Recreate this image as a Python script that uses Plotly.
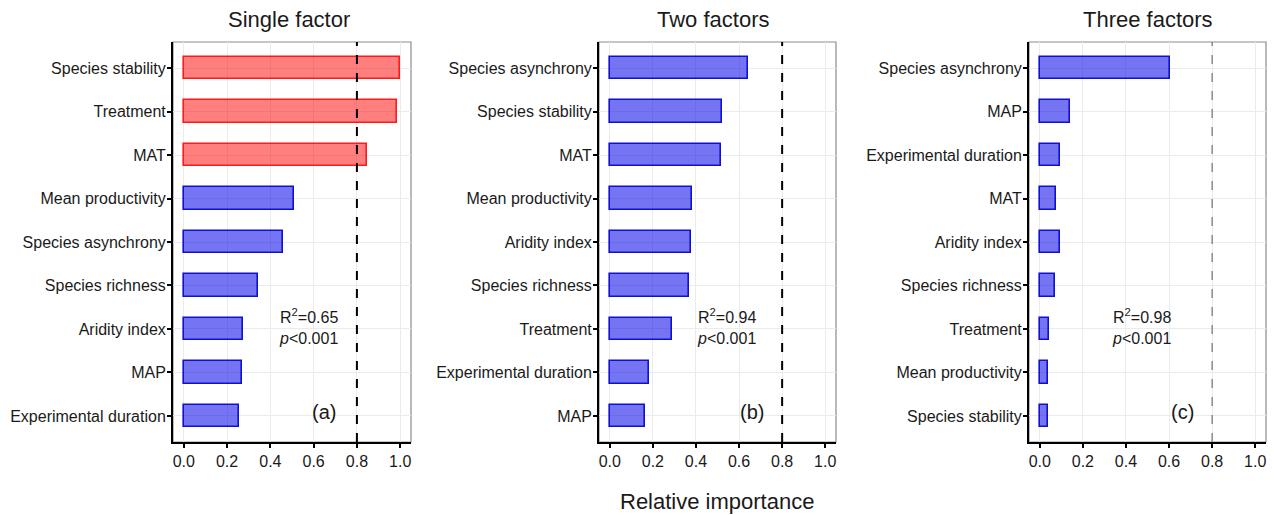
import plotly.graph_objects as go

# Relative importance of predictors, one panel per model
single_labels = ["Species stability", "Treatment", "MAT", "Mean productivity",
                 "Species asynchrony", "Species richness", "Aridity index", "MAP",
                 "Experimental duration"]
single_values = [1.00, 0.985, 0.845, 0.51, 0.457, 0.343, 0.274, 0.268, 0.254]
single_signif = [True, True, True, False, False, False, False, False, False]

two_labels = ["Species asynchrony", "Species stability", "MAT", "Mean productivity",
              "Aridity index", "Species richness", "Treatment", "Experimental duration", "MAP"]
two_values = [0.643, 0.52, 0.518, 0.382, 0.379, 0.367, 0.288, 0.183, 0.165]
two_signif = [False] * 9

three_labels = ["Species asynchrony", "MAP", "Experimental duration", "MAT", "Aridity index",
                "Species richness", "Treatment", "Mean productivity", "Species stability"]
three_values = [0.603, 0.140, 0.092, 0.076, 0.092, 0.072, 0.043, 0.040, 0.036]
three_signif = [False] * 9

panel_titles = ["Single factor", "Two factors", "Three factors"]
panel_tags = ["(a)", "(b)", "(c)"]
r2_values = ["0.65", "0.94", "0.98"]
x_ticks = [0.0, 0.2, 0.4, 0.6, 0.8, 1.0]
threshold = 0.8

W, H = 1274, 515
FONT = "Liberation Sans, Arial, sans-serif"

# pixel layout of the three panels
px_left = [173, 599, 1029]
px_right = [411, 836, 1266]
px_top, px_bottom = 42, 442
title_x = [289, 713, 1148]
stat_x = [0.43, 0.394, 0.326]
tag_x = [0.649, 0.66, 0.663]
thr_style = [dict(color="black", width=2, dash="dash"),
             dict(color="black", width=2, dash="dash"),
             dict(color="#707070", width=1.2, dash="dash")]

RED_FILL, RED_LINE = "rgba(255,0,0,0.5)", "#ff1a1a"
BLUE_FILL, BLUE_LINE = "rgba(0,0,235,0.54)", "#1010d0"

fig = go.Figure()
panels = [(single_labels, single_values, single_signif),
          (two_labels, two_values, two_signif),
          (three_labels, three_values, three_signif)]

ydom = [1 - px_bottom / H, 1 - px_top / H]
for i, (labels, values, signif) in enumerate(panels):
    n = i + 1
    xa = "x" if n == 1 else f"x{n}"
    ya = "y" if n == 1 else f"y{n}"
    fig.add_trace(go.Bar(
        x=values, y=labels, orientation="h", width=0.52,
        marker=dict(color=[RED_FILL if s else BLUE_FILL for s in signif],
                    line=dict(color=[RED_LINE if s else BLUE_LINE for s in signif], width=1.6)),
        xaxis=xa, yaxis=ya, showlegend=False, hoverinfo="x+y",
    ))
    suffix = "" if n == 1 else str(n)
    fig.update_layout({
        f"xaxis{suffix}": dict(
            domain=[px_left[i] / W, px_right[i] / W], anchor=ya,
            range=[-0.05, 1.05], tickvals=x_ticks,
            ticktext=[f"{v:.1f}" for v in x_ticks],
            showgrid=True, gridcolor="#ebebeb", gridwidth=1, zeroline=False,
            showline=True, linecolor="black", linewidth=2,
            ticks="outside", ticklen=4, tickwidth=1.5, tickcolor="black",
            tickfont=dict(family=FONT, size=16, color="#1a1a1a"),
        ),
        f"yaxis{suffix}": dict(
            domain=ydom, anchor=xa, type="category",
            categoryorder="array", categoryarray=labels,
            range=[len(labels) - 0.4, -0.6],
            showgrid=True, gridcolor="#ebebeb", gridwidth=1, zeroline=False,
            showline=True, linecolor="black", linewidth=2,
            ticks="outside", ticklen=4, tickwidth=1.5, tickcolor="black",
            ticklabelstandoff=-2,
            tickfont=dict(family=FONT, size=16, color="#1a1a1a"),
        ),
    })
    # outer panel border
    fig.add_shape(type="rect", xref=f"{xa} domain", yref=f"{ya} domain",
                  x0=0, x1=1, y0=0, y1=1, line=dict(color="#8c8c8c", width=1.2),
                  layer="below")
    # importance threshold
    fig.add_shape(type="line", xref=xa, yref=f"{ya} domain",
                  x0=threshold, x1=threshold, y0=0, y1=1, line=thr_style[i])
    # model fit statistics
    fig.add_annotation(xref=xa, yref=ya, x=stat_x[i], y=5.94,
                       text=f"R<sup>2</sup>={r2_values[i]}<br><i>p</i>&lt;0.001",
                       showarrow=False, xanchor="left", yanchor="middle", align="left",
                       font=dict(family=FONT, size=16, color="#1a1a1a"))
    fig.add_annotation(xref=xa, yref=ya, x=tag_x[i], y=7.9, text=panel_tags[i],
                       showarrow=False, xanchor="center", yanchor="middle",
                       font=dict(family=FONT, size=20, color="#1a1a1a"))
    fig.add_annotation(xref="paper", yref="paper", x=title_x[i] / W, y=1 - 20 / H,
                       text=panel_titles[i], showarrow=False,
                       xanchor="center", yanchor="middle",
                       font=dict(family=FONT, size=22, color="#1a1a1a"))

fig.add_annotation(xref="paper", yref="paper", x=717 / W, y=1 - 501 / H,
                   text="Relative importance", showarrow=False,
                   xanchor="center", yanchor="middle",
                   font=dict(family=FONT, size=22, color="#1a1a1a"))

fig.update_layout(width=W, height=H, margin=dict(l=0, r=0, t=0, b=0),
                  paper_bgcolor="white", plot_bgcolor="white", bargap=0)

fig.write_html("out.html")
